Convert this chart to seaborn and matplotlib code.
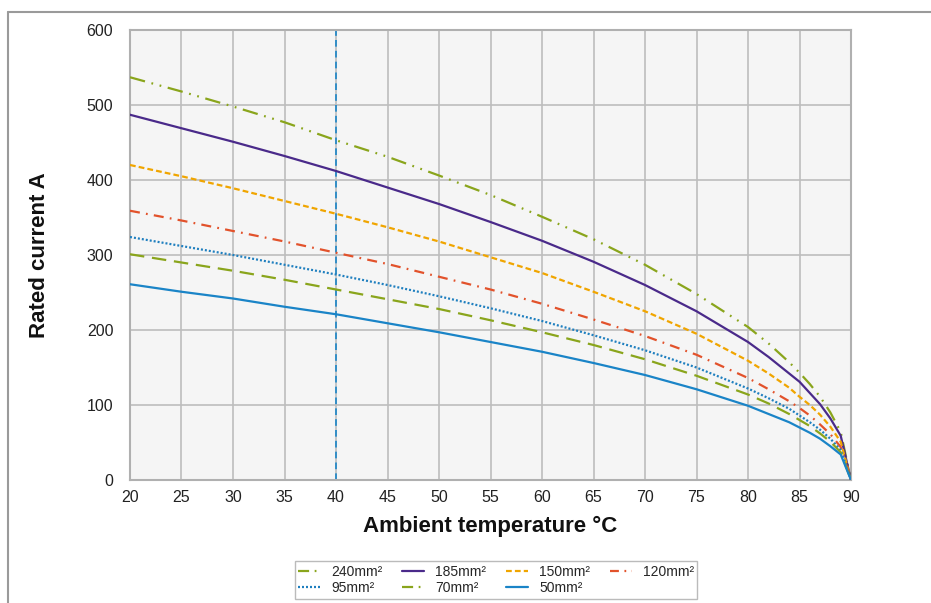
import matplotlib
matplotlib.use("Agg")
import matplotlib.pyplot as plt
from matplotlib.lines import Line2D
import seaborn as sns
import pandas as pd

temps = [20, 25, 30, 35, 40, 45, 50, 55, 60, 65, 70, 75, 80, 82, 84, 85, 86, 87, 88, 89, 90]

c240 = [537, 518, 498, 477, 453, 431, 406, 380, 351, 321, 287, 248, 204, 182, 157, 143, 128, 111, 90, 64, 0]
c185 = [487, 469, 451, 432, 412, 390, 368, 344, 319, 291, 260, 225, 184, 164, 142, 131, 116, 101, 82, 59, 0]
c150 = [420, 405, 389, 372, 355, 337, 318, 297, 276, 251, 225, 195, 159, 142, 123, 111, 100, 87, 71, 51, 0]
c120 = [359, 346, 332, 318, 303, 288, 271, 254, 235, 214, 192, 167, 136, 121, 105, 96, 86, 74, 61, 44, 0]
c95 = [324, 312, 300, 287, 274, 260, 245, 229, 212, 193, 173, 150, 122, 109, 95, 86, 77, 67, 55, 40, 0]
c70 = [301, 290, 279, 267, 254, 241, 228, 213, 197, 180, 161, 139, 114, 102, 88, 80, 72, 62, 51, 37, 0]
c50 = [261, 251, 242, 231, 221, 209, 197, 184, 171, 156, 140, 121, 99, 88, 77, 70, 63, 55, 45, 34, 0]

labels = ["240mm²", "185mm²", "150mm²", "120mm²", "95mm²", "70mm²", "50mm²"]
series = [c240, c185, c150, c120, c95, c70, c50]
colors = ["#8aa51c", "#4a2a8a", "#f0a500", "#e2522b", "#1f7fbf", "#8aa51c", "#1a84c7"]
styles = [(0, (7, 3, 0.8, 3, 0.8, 3)), "-", (0, (2.6, 1.4)), (0, (4.5, 2.8, 0.8, 2.8)),
          (0, (0.9, 0.9)), (0, (6.5, 3.5)), "-"]
legend_styles = [(0, (5, 2.5, 0.8, 2.5)), "-", (0, (2.6, 1.4)), (0, (4, 2.5, 0.8, 2.5)),
                 (0, (0.9, 0.9)), (0, (5, 2.5, 0.8, 2.5)), "-"]

xticks = list(range(20, 95, 5))
yticks = list(range(0, 700, 100))
ref_temp = 40

sns.set_theme(style="whitegrid")
plt.rcParams['font.family'] = ['Liberation Sans', 'DejaVu Sans']

fig = plt.figure(figsize=(9.31, 6.03), dpi=100)
ax = fig.add_axes([130 / 931, 1 - 480 / 603, (851 - 130) / 931, (480 - 30) / 603])
ax.set_facecolor("#f5f5f5")

ax.axvline(ref_temp, color="#1a84c7", lw=1.2, linestyle=(0, (4, 2.5)), zorder=2)

handles = []
for lab, vals, col, ls, lls in zip(labels, series, colors, styles, legend_styles):
    df = pd.DataFrame({"T": temps, "I": vals})
    sns.lineplot(data=df, x="T", y="I", ax=ax, color=col, linestyle=ls, lw=1.6, zorder=3)
    handles.append(Line2D([0], [0], color=col, linestyle=lls, lw=1.6))

ax.set_xlim(20, 90)
ax.set_ylim(0, 600)
ax.set_xticks(xticks)
ax.set_yticks(yticks)
ax.grid(True, color="#bdbdbd", lw=1.2)
ax.tick_params(axis="both", length=0, labelsize=11.5, colors="#222222")
ax.tick_params(axis="x", pad=7)
ax.tick_params(axis="y", pad=12)
for s in ax.spines.values():
    s.set_color("#b0b0b0")
    s.set_linewidth(1.5)

ax.set_xlabel("Ambient temperature °C", fontsize=16, fontweight="bold", color="#111111")
ax.set_ylabel("Rated current A", fontsize=16, fontweight="bold", color="#111111")
ax.xaxis.set_label_coords(0.5, -(516 - 480) / 450)
ax.yaxis.set_label_coords((50 - 130) / 721, 0.5)

order = [0, 4, 1, 5, 2, 6, 3]
leg = fig.legend([handles[i] for i in order], [labels[i] for i in order],
                 loc="center", bbox_to_anchor=(496 / 931, 1 - 580 / 603), ncol=4,
                 fontsize=10, frameon=True, fancybox=False, edgecolor="#aaaaaa",
                 handlelength=1.6, columnspacing=1.4, borderpad=0.25, labelspacing=0.15,
                 handletextpad=0.8)
leg.get_frame().set_linewidth(1.0)

fig.add_artist(Line2D([8 / 931, 8 / 931], [0, 1 - 12 / 603], transform=fig.transFigure,
                      color="#9a9a9a", lw=1.5))
fig.add_artist(Line2D([8 / 931, 1], [1 - 12 / 603, 1 - 12 / 603], transform=fig.transFigure,
                      color="#9a9a9a", lw=1.5))

fig.savefig("out.png", dpi=100)
